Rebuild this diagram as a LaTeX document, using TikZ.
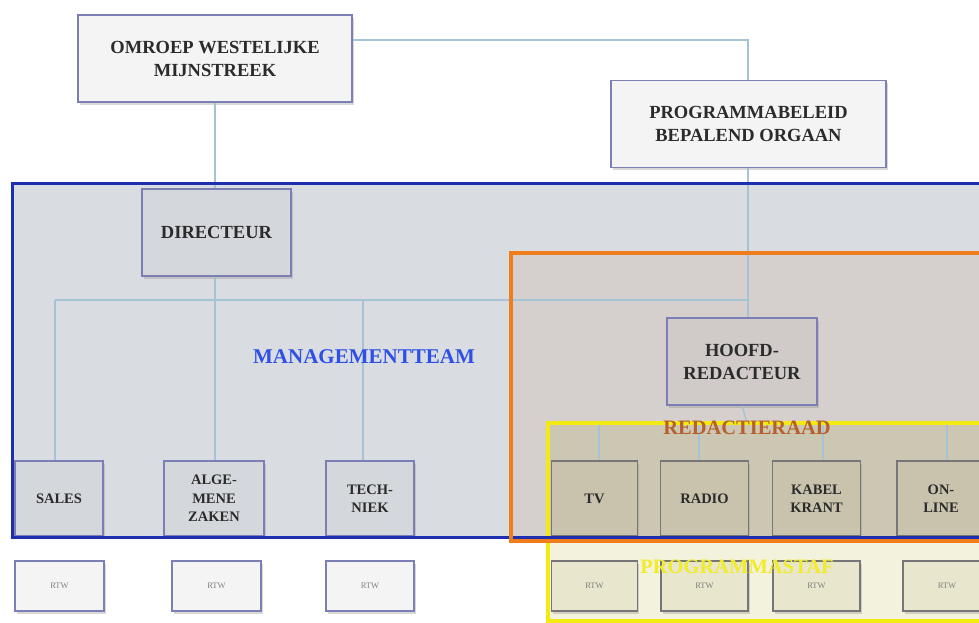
\documentclass[tikz,border=0pt]{standalone}
\usepackage{fontspec}
\setmainfont{Liberation Serif}
\usetikzlibrary{shadows}
\definecolor{boxborder}{HTML}{7B7FB5}
\definecolor{boxfill}{HTML}{F4F4F4}
\definecolor{mgmtfill}{HTML}{D9DDE1}
\definecolor{mgmtbox}{HTML}{D4D8DC}
\definecolor{mgmtline}{HTML}{1D2FB0}
\definecolor{redfill}{HTML}{D5D0CD}
\definecolor{redbox}{HTML}{D0CBC8}
\definecolor{redline}{HTML}{F07D1C}
\definecolor{stafline}{HTML}{F2EA10}
\definecolor{staffill}{HTML}{F3F2DC}
\definecolor{stafover}{HTML}{CCC7B2}
\definecolor{stafbox}{HTML}{C9C3AD}
\definecolor{staflow}{HTML}{E8E6CC}
\definecolor{grayborder}{HTML}{75757A}
\definecolor{conn}{HTML}{A6C2D5}
\definecolor{mgmttext}{HTML}{2E50E6}
\definecolor{redtext}{HTML}{B5602E}
\definecolor{staftext}{HTML}{F0EC2A}
\definecolor{boxtext}{HTML}{2B2B2B}
\begin{document}
\begin{tikzpicture}[x=1pt,y=-1pt,
  box/.style={draw=boxborder, line width=1.6pt, fill=boxfill, align=center, inner sep=0pt,
    font=\fontsize{18.5}{23}\selectfont\bfseries, text=boxtext,
    drop shadow={opacity=0.3, shadow xshift=1.5pt, shadow yshift=-2.5pt}},
  smallbox/.style={box, font=\fontsize{14.5}{18.5}\selectfont\bfseries, minimum height=75pt},
  tinybox/.style={box, font=\fontsize{8.5}{10}\selectfont, text=black!50, minimum height=50pt},
  onstaf/.style={fill=stafbox, draw=grayborder},
  onstaflow/.style={fill=staflow, draw=grayborder},
  frametext/.style={font=\fontsize{21}{25}\selectfont\bfseries, inner sep=0pt},
  connector/.style={draw=conn, line width=1.3pt},
]
\useasboundingbox (0,0) rectangle (979,622);
\clip (0,0) rectangle (979,622);
\fill[white] (0,0) rectangle (979,622);
% region fills
\fill[mgmtfill] (12,183) rectangle (990,537);
\fill[redfill] (511,253) rectangle (990,541);
\fill[stafover] (548,423) rectangle (990,541);
\fill[staffill] (548,541) rectangle (990,621);

% nodes
\node[box, minimum width=274pt, minimum height=87pt] (omroep) at (215,58.5) {OMROEP WESTELIJKE\\MIJNSTREEK};
\node[box, minimum width=275pt, minimum height=87pt] (prog) at (748.5,124) {PROGRAMMABELEID\\BEPALEND ORGAAN};
\node[box, fill=mgmtbox, minimum width=149pt, minimum height=87pt] (dir) at (216.5,232.5) {DIRECTEUR};
\node[box, fill=redbox, minimum width=150pt, minimum height=87pt] (hoofd) at (742,361.5) {HOOFD-\\REDACTEUR};

\node[smallbox, fill=mgmtbox, minimum width=88pt] (sales) at (59,498.5) {SALES};
\node[smallbox, fill=mgmtbox, minimum width=100pt] (alge) at (214,498.5) {ALGE-\\MENE\\ZAKEN};
\node[smallbox, fill=mgmtbox, minimum width=88pt] (tech) at (370,498.5) {TECH-\\NIEK};
\node[smallbox, onstaf, minimum width=86pt] (tv) at (594.5,498.5) {TV};
\node[smallbox, onstaf, minimum width=88pt] (radio) at (704.5,498.5) {RADIO};
\node[smallbox, onstaf, minimum width=88pt] (kabel) at (816.5,498.5) {KABEL\\KRANT};
\node[smallbox, onstaf, minimum width=88pt] (online) at (941,498.5) {ON-\\LINE};

\node[tinybox, minimum width=89pt] (b1) at (59.5,586) {RTW};
\node[tinybox, minimum width=89pt] (b2) at (216.5,586) {RTW};
\node[tinybox, minimum width=88pt] (b3) at (370,586) {RTW};
\node[tinybox, onstaflow, minimum width=86pt] (b4) at (594.5,586) {RTW};
\node[tinybox, onstaflow, minimum width=87pt] (b5) at (704.5,586) {RTW};
\node[tinybox, onstaflow, minimum width=87pt] (b6) at (816.5,586) {RTW};
\node[tinybox, onstaflow, minimum width=88pt] (b7) at (947,586) {RTW};

% connectors
\coordinate (tr) at (748,40);
\coordinate (busr) at (748,300);
\coordinate (busl) at (55,300);
\coordinate (ebus) at (747,423);
\draw[connector] (omroep.east |- tr) -- (tr) -- (prog.north -| tr);
\draw[connector] (prog.south -| tr) -- (busr) -- (busr |- hoofd.north);
\draw[connector] (omroep.south) -- (omroep.south |- dir.north);
\draw[connector] (dir.south -| omroep.south) -- (busr -| omroep.south);
\draw[connector] (busl) -- (busr);
\draw[connector] (busl) -- (busl |- sales.north);
\draw[connector] (215,300) -- (alge.north -| 215,0);
\draw[connector] (363,300) -- (tech.north -| 363,0);
\draw[connector] (hoofd.south) -- (ebus);
\draw[connector] (599,423) -- (947,423);
\draw[connector] (599,423) -- (tv.north -| 599,0);
\draw[connector] (699,423) -- (radio.north -| 699,0);
\draw[connector] (823,423) -- (kabel.north -| 823,0);
\draw[connector] (947,423) -- (online.north -| 947,0);

% frame borders
\draw[stafline, line width=3.5pt] (548,423) rectangle (990,621);
\draw[mgmtline, line width=3pt] (12,183) rectangle (990,537);
\draw[redline, line width=3.5pt] (511,253) rectangle (990,541);

% frame labels
\node[frametext, text=mgmttext] (mgmt) at (364,357) {MANAGEMENTTEAM};
\node[frametext, text=redtext, font=\fontsize{20.5}{24}\selectfont\bfseries] (redraad) at (747,428) {REDACTIERAAD};
\node[frametext, text=staftext, font=\fontsize{20.5}{24}\selectfont\bfseries] (staf) at (737,567) {PROGRAMMASTAF};
\end{tikzpicture}
\end{document}
